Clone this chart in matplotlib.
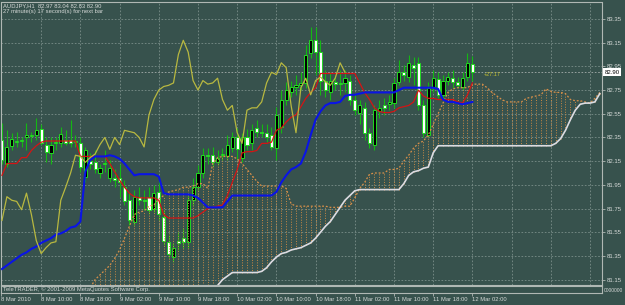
import numpy as np
import matplotlib
matplotlib.use('Agg')
import matplotlib.pyplot as plt
import matplotlib.transforms as mtransforms

# AUDJPY H1, bars from 8 Mar 02:00 to 12 Mar 02:00 (index 0..96)
open_price = [82.33, 82.13, 82.28, 82.31, 82.32, 82.35, 82.36, 82.37, 82.42, 82.29,
              82.22, 82.30, 82.30, 82.33, 82.33, 82.31, 82.30, 82.02, 82.15, 82.14,
              82.05, 82.13, 82.01, 82.01, 82.01, 81.93, 81.82, 81.64, 81.85, 81.82,
              81.85, 81.75, 81.89, 81.68, 81.47, 81.34, 81.48, 81.50, 81.47, 81.82,
              81.93, 82.05, 82.20, 82.20, 82.14, 82.20, 82.19, 82.26, 82.35, 82.18,
              82.35, 82.30, 82.43, 82.40, 82.39, 82.37, 82.26, 82.44, 82.67, 82.73,
              82.78, 82.79, 82.81, 83.06, 83.17, 83.07, 82.83, 82.73, 82.82, 82.80,
              82.81, 82.83, 82.67, 82.56, 82.60, 82.39, 82.29, 82.57, 82.62, 82.63,
              82.64, 82.82, 82.90, 82.86, 82.96, 82.98, 82.62, 82.37, 82.77, 82.84,
              82.71, 82.83, 82.85, 82.82, 82.78, 82.86, 82.97]
high_price = [82.47, 82.41, 82.39, 82.40, 82.35, 82.47, 82.40, 82.51, 82.46, 82.35,
              82.35, 82.35, 82.44, 82.41, 82.50, 82.37, 82.35, 82.27, 82.22, 82.24,
              82.13, 82.24, 82.16, 82.08, 82.13, 81.99, 81.89, 81.91, 81.93, 81.91,
              81.93, 81.95, 81.99, 81.74, 81.53, 81.46, 81.55, 81.59, 81.86, 82.01,
              82.12, 82.26, 82.26, 82.27, 82.24, 82.26, 82.37, 82.40, 82.43, 82.39,
              82.42, 82.46, 82.50, 82.46, 82.46, 82.44, 82.61, 82.75, 82.82, 82.83,
              82.88, 82.90, 83.13, 83.28, 83.28, 83.17, 82.92, 82.90, 82.88, 82.92,
              82.92, 82.88, 82.71, 82.67, 82.65, 82.43, 82.62, 82.67, 82.68, 82.71,
              82.85, 83.00, 82.96, 83.05, 83.03, 83.03, 82.67, 82.82, 82.92, 82.90,
              82.88, 82.90, 82.92, 82.86, 82.90, 83.06, 83.04]
low_price = [82.13, 82.10, 82.24, 82.27, 82.27, 82.24, 82.31, 82.33, 82.29, 82.14,
             82.13, 82.24, 82.27, 82.29, 82.27, 82.27, 82.06, 81.97, 82.08, 82.05,
             82.01, 82.06, 81.97, 81.93, 81.85, 81.78, 81.61, 81.61, 81.78, 81.74,
             81.70, 81.72, 81.65, 81.44, 81.33, 81.30, 81.40, 81.42, 81.42, 81.78,
             81.91, 82.01, 82.13, 82.10, 82.12, 82.16, 82.16, 82.23, 82.17, 82.14,
             82.24, 82.24, 82.35, 82.35, 82.31, 82.24, 82.16, 82.39, 82.62, 82.69,
             82.71, 82.75, 82.77, 83.02, 82.88, 82.71, 82.69, 82.67, 82.75, 82.71,
             82.73, 82.62, 82.54, 82.46, 82.33, 82.26, 82.24, 82.51, 82.54, 82.58,
             82.60, 82.79, 82.83, 82.82, 82.79, 82.58, 82.35, 82.35, 82.73, 82.68,
             82.67, 82.79, 82.77, 82.77, 82.75, 82.83, 82.83]
close_price = [82.16, 82.27, 82.34, 82.32, 82.33, 82.37, 82.37, 82.41, 82.30, 82.23,
               82.29, 82.31, 82.38, 82.30, 82.30, 82.32, 82.10, 82.24, 82.13, 82.08,
               82.09, 82.13, 82.09, 81.99, 81.97, 81.81, 81.65, 81.85, 81.82, 81.81,
               81.74, 81.88, 81.70, 81.48, 81.37, 81.42, 81.46, 81.47, 81.82, 81.93,
               82.05, 82.20, 82.19, 82.14, 82.18, 82.21, 82.29, 82.35, 82.25, 82.35,
               82.29, 82.41, 82.40, 82.39, 82.35, 82.27, 82.54, 82.67, 82.75, 82.78,
               82.79, 82.81, 83.05, 83.17, 83.07, 82.83, 82.75, 82.83, 82.80, 82.81,
               82.85, 82.67, 82.58, 82.62, 82.39, 82.30, 82.58, 82.60, 82.60, 82.65,
               82.81, 82.90, 82.88, 82.98, 82.94, 82.62, 82.39, 82.77, 82.85, 82.71,
               82.83, 82.86, 82.82, 82.79, 82.85, 82.98, 82.90]

# Ichimoku lines
tenkan = [82.03, 82.13, 82.13, 82.13, 82.18, 82.18, 82.24, 82.28, 82.31, 82.32,
          82.32, 82.32, 82.32, 82.32, 82.32, 82.32, 82.19, 82.19, 82.19, 82.19,
          82.19, 82.19, 82.13, 82.06, 81.99, 81.93, 81.88, 81.85, 81.84, 81.84,
          81.84, 81.84, 81.82, 81.70, 81.67, 81.67, 81.67, 81.67, 81.67, 81.67,
          81.69, 81.72, 81.75, 81.76, 81.77, 81.78, 81.86, 81.97, 82.08, 82.22,
          82.23, 82.23, 82.24, 82.30, 82.30, 82.31, 82.41, 82.43, 82.48, 82.52,
          82.54, 82.61, 82.68, 82.73, 82.77, 82.89, 82.89, 82.89, 82.89, 82.89,
          82.89, 82.89, 82.89, 82.81, 82.73, 82.67, 82.60, 82.57, 82.56, 82.56,
          82.57, 82.60, 82.61, 82.62, 82.65, 82.75, 82.70, 82.68, 82.68, 82.67,
          82.67, 82.67, 82.67, 82.65, 82.64, 82.71, 82.81]
kijun = [81.24, 81.27, 81.30, 81.33, 81.36, 81.38, 81.41, 81.43, 81.46, 81.48,
         81.50, 81.53, 81.54, 81.56, 81.59, 81.60, 81.64, 82.06, 82.16, 82.19,
         82.19, 82.19, 82.20, 82.19, 82.17, 82.13, 82.08, 82.03, 82.04, 82.04,
         82.04, 82.04, 82.02, 81.88, 81.87, 81.87, 81.87, 81.87, 81.87, 81.86,
         81.84, 81.80, 81.76, 81.76, 81.76, 81.76, 81.81, 81.86, 81.86, 81.86,
         81.86, 81.86, 81.86, 81.86, 81.86, 81.86, 81.89, 81.97, 82.03, 82.08,
         82.10, 82.13, 82.23, 82.37, 82.50, 82.57, 82.62, 82.64, 82.64, 82.65,
         82.70, 82.71, 82.71, 82.72, 82.73, 82.73, 82.73, 82.73, 82.73, 82.73,
         82.73, 82.75, 82.77, 82.77, 82.77, 82.77, 82.77, 82.77, 82.77, 82.76,
         82.67, 82.65, 82.65, 82.64, 82.63, 82.64, 82.65]
# Senkou spans, already shifted 26 bars ahead (index 0..122)
span_a = [81.05, 81.05, 81.05, 81.05, 81.05, 81.05, 81.05, 81.05, 81.05, 81.05,
          81.05, 81.05, 81.05, 81.05, 81.05, 81.05, 81.05, 81.05, 81.08, 81.15,
          81.19, 81.23, 81.27, 81.33, 81.40, 81.50, 81.60, 81.70, 81.72, 81.73,
          81.77, 81.78, 81.83, 81.86, 81.89, 81.90, 81.91, 81.93, 81.93, 81.94,
          81.96, 81.96, 81.92, 82.13, 82.18, 82.19, 82.19, 82.19, 82.17, 82.13,
          82.08, 82.03, 81.98, 81.94, 81.94, 81.94, 81.94, 81.94, 81.92, 81.79,
          81.77, 81.77, 81.77, 81.77, 81.77, 81.77, 81.77, 81.76, 81.76, 81.76,
          81.77, 81.77, 81.84, 81.92, 81.97, 82.04, 82.05, 82.05, 82.05, 82.08,
          82.08, 82.09, 82.15, 82.20, 82.26, 82.30, 82.32, 82.37, 82.46, 82.55,
          82.64, 82.73, 82.76, 82.77, 82.77, 82.77, 82.80, 82.80, 82.80, 82.77,
          82.73, 82.70, 82.67, 82.65, 82.65, 82.65, 82.65, 82.68, 82.69, 82.70,
          82.71, 82.76, 82.74, 82.73, 82.73, 82.72, 82.67, 82.66, 82.66, 82.65,
          82.64, 82.68, 82.73]
span_b = [81.00, 81.00, 81.00, 81.00, 81.00, 81.00, 81.00, 81.00, 81.00, 81.00,
          81.00, 81.00, 81.00, 81.00, 81.00, 81.00, 81.00, 81.00, 81.00, 81.00,
          81.00, 81.00, 81.00, 81.00, 81.00, 81.00, 81.00, 81.00, 81.00, 81.00,
          81.00, 81.00, 81.00, 81.00, 81.00, 81.00, 81.00, 81.00, 81.00, 81.00,
          81.02, 81.04, 81.06, 81.08, 81.10, 81.15, 81.18, 81.21, 81.21, 81.21,
          81.21, 81.21, 81.21, 81.22, 81.25, 81.30, 81.34, 81.37, 81.38, 81.40,
          81.41, 81.42, 81.44, 81.46, 81.50, 81.55, 81.60, 81.64, 81.70, 81.76,
          81.82, 81.86, 81.90, 81.91, 81.91, 81.91, 81.91, 81.91, 81.91, 81.91,
          81.91, 81.91, 81.96, 82.03, 82.06, 82.07, 82.09, 82.10, 82.22, 82.28,
          82.28, 82.28, 82.28, 82.28, 82.28, 82.28, 82.28, 82.28, 82.28, 82.28,
          82.28, 82.28, 82.28, 82.28, 82.28, 82.28, 82.28, 82.28, 82.28, 82.28,
          82.28, 82.28, 82.28, 82.30, 82.34, 82.41, 82.50, 82.58, 82.63, 82.64,
          82.64, 82.65, 82.72]

time_ticks = [8, 16, 24, 32, 40, 48, 56, 64, 72, 80, 88, 96]
time_labels = ['8 Mar 10:00', '8 Mar 18:00', '9 Mar 02:00', '9 Mar 10:00', '9 Mar 18:00',
               '10 Mar 02:00', '10 Mar 10:00', '10 Mar 18:00', '11 Mar 02:00',
               '11 Mar 10:00', '11 Mar 18:00', '12 Mar 02:00']
grid_ticks = [8, 16, 24, 32, 40, 48, 56, 64, 72, 80, 88, 96, 104, 112, 120]
price_ticks = [83.35, 83.15, 82.95, 82.75, 82.55, 82.35, 82.15, 81.95, 81.75, 81.55, 81.35, 81.15]

BG = '#37524d'
TXT = '#d4d8d6'
FRAME = '#b0b8b4'
GRID = '#7a8e89'
SHIFT = 26  # chikou shift


def draw_candles(ax):
    """Candles: bull black, bear white, green outline."""
    x = np.arange(len(close_price))
    o = np.array(open_price)
    c = np.array(close_price)
    ax.vlines(x, low_price, high_price, color='#14b814', lw=0.8, zorder=2)
    body = np.maximum(np.abs(c - o), 0.005)
    colors = np.where(c >= o, 'black', 'white')
    ax.bar(x, body, bottom=np.minimum(o, c), width=0.62, color=colors,
           edgecolor='#22d822', linewidth=0.7, zorder=2.5)


def draw_ichimoku(ax):
    """Cloud histogram, spans, tenkan, kijun, chikou."""
    pos = np.arange(len(span_a))
    ax.vlines(pos, span_b, span_a, colors='#c98a45', linestyles=(0, (1, 1.6)),
              lw=0.7, zorder=3)
    ax.plot(pos, span_a, color='#d8904a', ls=(0, (1.5, 1.5)), lw=0.9, zorder=4)
    ax.plot(pos, span_b, color='#dcdce2', lw=1.2, zorder=4)
    x = np.arange(len(close_price))
    ax.plot(x, tenkan, color='#d41414', lw=0.9, zorder=5)
    ax.plot(x, kijun, color='#0a14e6', lw=1.5, zorder=5)
    chikou = close_price[SHIFT:]
    ax.plot(np.arange(len(chikou)), chikou, color='#b8b840', lw=0.9, zorder=5)


def main():
    plt.rcParams['font.family'] = ['Liberation Sans', 'DejaVu Sans']
    fig = plt.figure(figsize=(6.25, 3.05), dpi=100, facecolor=BG)
    W, H = 625.0, 305.0
    left, right = 1 / W, 602 / W
    ax = fig.add_axes([left, (H - 284.5) / H, right - left, 282 / H])
    sub = fig.add_axes([left, (H - 293) / H, right - left, 7.5 / H])

    xlim = (-0.2, 122.45)
    for a in (ax, sub):
        a.set_facecolor(BG)
        a.set_xlim(*xlim)
        for s in a.spines.values():
            s.set_color(FRAME)
            s.set_linewidth(0.8)

    ax.set_ylim(81.109, 83.489)
    draw_candles(ax)
    draw_ichimoku(ax)

    # grid
    ax.set_axisbelow(True)
    ax.set_xticks(grid_ticks)
    ax.set_yticks(price_ticks)
    ax.grid(True, color=GRID, ls=(0, (2, 2)), lw=0.6)
    ax.tick_params(axis='x', length=0, labelbottom=False)
    ax.yaxis.tick_right()
    ax.tick_params(axis='y', length=2, width=0.6, color=FRAME, pad=1.5,
                   labelsize=4.3, labelcolor=TXT)

    # bid line and price box
    ax.axhline(82.90, color='#a6aeac', ls=(0, (2, 2)), lw=0.6, zorder=1)
    trans = mtransforms.blended_transform_factory(ax.transAxes, ax.transData)
    ax.text(1.004, 82.90, '82.90', transform=trans, fontsize=4.3, color='black',
            va='center', ha='left', zorder=10,
            bbox=dict(boxstyle='square,pad=0.25', fc='white', ec='none'))
    ax.text(98.3, 82.885, '+27:17', fontsize=4.0, color='#c4c030', va='center', zorder=6)

    # header
    fig.text(3 / W, 1 - 6 / H, 'AUDJPY,H1  82.97 83.04 82.83 82.90', fontsize=4.2,
             color=TXT, va='center')
    fig.text(3 / W, 1 - 12 / H, '27 minute(s) 17 second(s) for next bar', fontsize=4.2,
             color=TXT, va='center')

    # bottom strip and time axis
    sub.set_yticks([])
    sub.set_ylim(0, 1)
    sub.text(0.004, 0.45, 'TeleTRADER, \u00a9 2001-2009 MetaQuotes Software Corp.',
             transform=sub.transAxes, fontsize=4.2, color=TXT, va='center')
    fig.text(604 / W, 1 - 290.5 / H, '0000000', fontsize=3.5, color=TXT, va='center')
    sub.set_xticks([-0.2] + time_ticks)
    sub.set_xticklabels(['8 Mar 2010'] + time_labels)
    sub.tick_params(axis='x', length=2, width=0.6, color=FRAME, pad=0.8,
                    labelsize=4.2, labelcolor=TXT)
    for lbl in sub.get_xticklabels():
        lbl.set_horizontalalignment('left')

    fig.savefig('out.png', dpi=100, facecolor=BG)


if __name__ == "__main__":
    main()
